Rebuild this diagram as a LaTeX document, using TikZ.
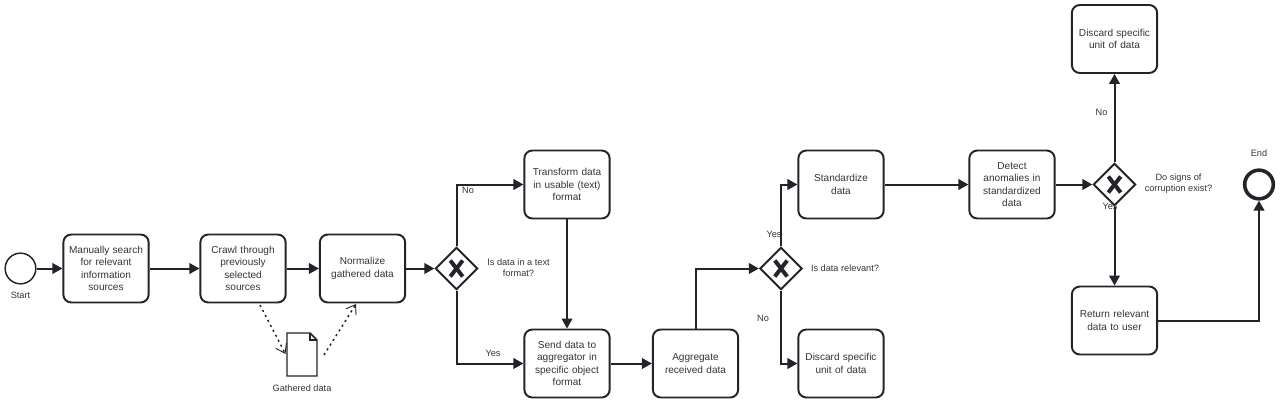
\documentclass[tikz,border=0pt]{standalone}
\usepackage{fontspec}
\setmainfont{Liberation Sans}
\usetikzlibrary{arrows.meta,calc,shapes.geometric}
\definecolor{ink}{HTML}{22242A}
\definecolor{txt}{HTML}{33353B}
\newcommand{\boxfont}{\fontsize{7.55pt}{9.25pt}\selectfont}
\newcommand{\lblfont}{\fontsize{6.9pt}{8.4pt}\selectfont}
\tikzset{
 task/.style={draw=ink,line width=1.45pt,rounded corners=6pt,fill=white,minimum width=64pt,minimum height=51pt,inner sep=1pt,align=center,text=txt,font=\boxfont,text width=62pt},
 gate/.style={draw=ink,line width=1.45pt,fill=white,shape=diamond,minimum size=31.8pt,inner sep=0pt},
 xstroke/.style={draw=ink,line width=3pt},
 flow/.style={draw=ink,line width=1.5pt,-{Triangle[length=7.5pt,width=8pt]}},
 data/.style={draw=ink,line width=1.1pt,dash pattern=on 1.6pt off 2.6pt,-{Straight Barb[length=6.5pt,width=9pt,line width=.7pt]}},
 lbl/.style={text=txt,font=\lblfont,align=center,inner sep=0pt},
}
\begin{document}
\begin{tikzpicture}[x=0.75pt,y=-0.75pt]
\useasboundingbox (0,0) rectangle (1280,403);
\node[draw=ink,line width=1.1pt,circle,minimum size=23pt,inner sep=0pt] (start) at (20.5,268.5) {};
\node[lbl] (startl) at (20.5,295.5) {Start};
\node[task] (manual) at (106,268.5) {Manually search\\for relevant\\information\\sources};
\node[task] (crawl) at (243,268.5) {Crawl through\\previously\\selected\\sources};
\node[task] (norm) at (362.5,268.5) {Normalize\\gathered data};
\node[gate] (g1) at (456.5,268.5) {};
\node[task] (transform) at (567,184.5) {Transform data\\in usable (text)\\format};
\node[task] (send) at (567,363.5) {Send data to\\aggregator in\\specific object\\format};
\node[task] (agg) at (695.5,363.5) {Aggregate\\received data};
\node[gate] (g2) at (781,268.5) {};
\node[task] (std) at (841,184.5) {Standardize\\data};
\node[task] (disc2) at (841,363.5) {Discard specific\\unit of data};
\node[task] (detect) at (1012,184.5) {Detect\\anomalies in\\standardized\\data};
\node[gate] (g3) at (1114.5,184.5) {};
\node[task] (disc1) at (1114.5,39) {Discard specific\\unit of data};
\node[task] (ret) at (1114.5,320.5) {Return relevant\\data to user};
\node[draw=ink,line width=2.7pt,circle,minimum size=21.5pt,inner sep=0pt] (end) at (1259,184.5) {};
\node[lbl] (endl) at (1259,153.5) {End};
% gateway crosses
\foreach \g in {g1,g2,g3}{
 \draw[xstroke] ($(\g)+(-6.2,-8)$) -- ($(\g)+(6.2,8)$);
 \draw[xstroke] ($(\g)+(6.2,-8)$) -- ($(\g)+(-6.2,8)$);
}
% document
\draw[draw=ink,line width=1.1pt,fill=white] (287,333) -- (310,333) -- (317,340) -- (317,376) -- (287,376) -- cycle;
\draw[draw=ink,line width=.8pt] (310,333) -- (310,340) -- (317,340);
\coordinate (docin) at (285.5,354);
\coordinate (docout) at (324,355);
\coordinate (crawlout) at (260,305);
\coordinate (normin) at (356,304);
\node[lbl] (docl) at (302,388) {Gathered data};
\node[lbl] at (518.5,268) {Is data in a text\\format?};
\node[lbl] (q2) at (845,268) {Is data relevant?};
\node[lbl] at (1178.5,184) {Do signs of\\corruption exist?};
\node[lbl] at (468,190.5) {No};
\node[lbl] at (493,353.5) {Yes};
\node[lbl] at (774,234) {Yes};
\node[lbl] at (763,318.5) {No};
\node[lbl] at (1101.5,112.5) {No};
\node[lbl] at (1110,206.5) {Yes};
% flows
\draw[flow] (start) -- (manual);
\draw[flow] (manual) -- (crawl);
\draw[flow] (crawl) -- (norm);
\draw[flow] (norm) -- (g1);
\draw[flow] (g1.north) |- (transform.west);
\draw[flow] (g1.south) |- (send.west);
\draw[flow] (transform) -- (send);
\draw[flow] (send) -- (agg);
\draw[flow] (agg.north) |- (g2.west);
\draw[flow] (g2.north) |- (std.west);
\draw[flow] (g2.south) |- (disc2.west);
\draw[flow] (std) -- (detect);
\draw[flow] (detect) -- (g3);
\draw[flow] (g3.north) -- (disc1.south);
\draw[flow] (g3.south) -- (ret.north);
\draw[flow] (ret.east) -| (end.south);
\draw[data] (crawlout) -- (docin);
\draw[data] (docout) -- (normin);
\end{tikzpicture}
\end{document}
